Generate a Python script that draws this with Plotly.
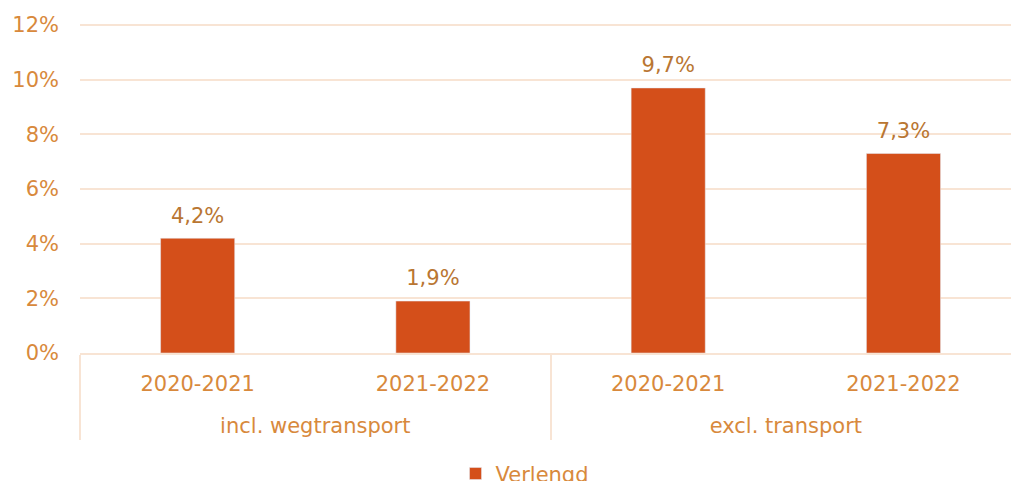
import plotly.graph_objects as go

GROUPS = ["incl. wegtransport", "incl. wegtransport", "excl. transport", "excl. transport"]
PERIODS = ["2020-2021", "2021-2022", "2020-2021", "2021-2022"]
VERLENGD = [4.2, 1.9, 9.7, 7.3]

BAR_COLOR = "#D44F1A"
AXIS_TEXT = "#D8893C"
LABEL_TEXT = "#B97632"
GRID = "#F8E4D4"
FONT = "DejaVu Sans"


def main():
    # empty second line on the inner labels pushes the group labels lower
    period_labels = [p + "<br> " for p in PERIODS]

    fig = go.Figure()
    fig.add_trace(
        go.Bar(
            x=[GROUPS, period_labels],
            y=VERLENGD,
            name="Verlengd",
            marker=dict(color=BAR_COLOR),
            hoverinfo="skip",
        )
    )
    # labels above the bars (invisible markers give the extra gap)
    fig.add_trace(
        go.Scatter(
            x=[GROUPS, period_labels],
            y=VERLENGD,
            mode="markers+text",
            text=[f"{v:.1f}%".replace(".", ",") for v in VERLENGD],
            textposition="top center",
            textfont=dict(family=FONT, color=LABEL_TEXT, size=21),
            marker=dict(size=15, opacity=0),
            showlegend=False,
            cliponaxis=False,
            hoverinfo="skip",
        )
    )
    fig.update_layout(
        width=1011,
        height=481,
        margin=dict(l=80, r=0, t=24, b=128, autoexpand=False),
        plot_bgcolor="white",
        paper_bgcolor="white",
        separators=",.",
        bargap=0.685,
        font=dict(family=FONT, size=21, color=AXIS_TEXT),
        showlegend=True,
        legend=dict(
            orientation="h",
            x=0.478,
            xanchor="center",
            y=-0.305,
            yanchor="top",
            itemwidth=30,
            font=dict(size=21, color=AXIS_TEXT),
        ),
        xaxis=dict(
            type="multicategory",
            range=[-0.5, 3.457],
            showline=True,
            linecolor=GRID,
            linewidth=2,
            showdividers=True,
            dividercolor=GRID,
            dividerwidth=2,
            ticklabelstandoff=11,
            tickfont=dict(size=21, color=AXIS_TEXT),
        ),
        yaxis=dict(
            range=[0, 12.04],
            dtick=2,
            ticksuffix="%",
            showgrid=True,
            gridcolor=GRID,
            gridwidth=2,
            zeroline=False,
            ticklabelstandoff=20,
            tickfont=dict(size=21, color=AXIS_TEXT),
        ),
    )
    fig.write_html(
        "out.html",
        config={"displayModeBar": False},
        post_script="document.body.style.margin='0';",
    )


if __name__ == "__main__":
    main()
